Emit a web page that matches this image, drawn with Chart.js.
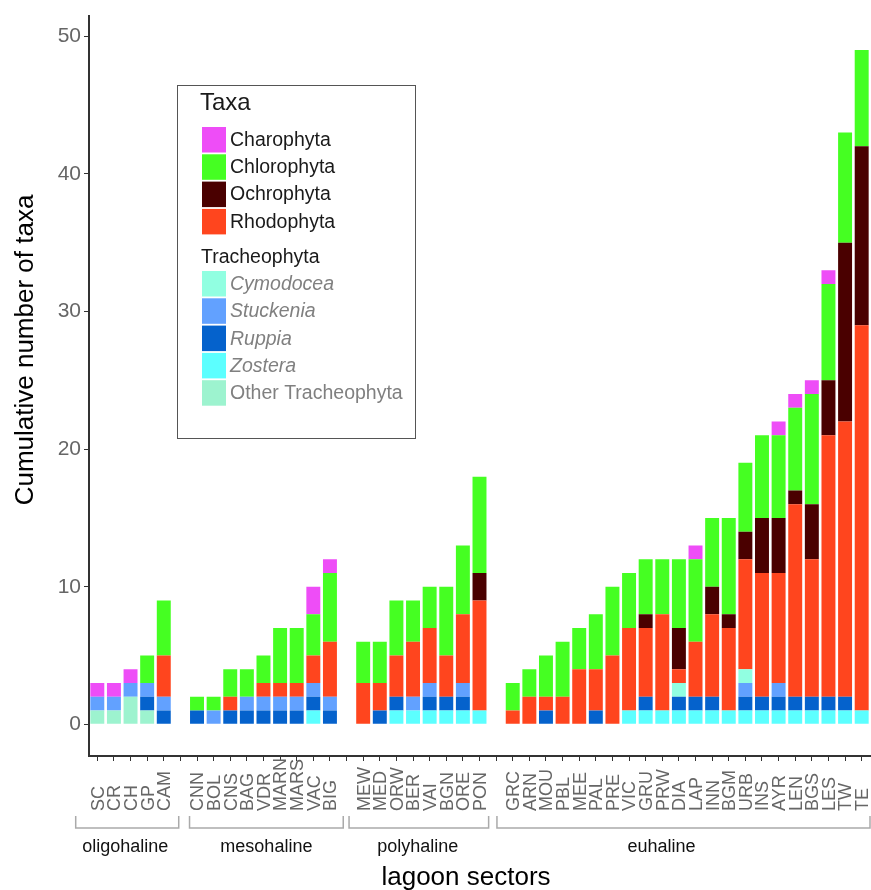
<!DOCTYPE html>
<html>
<head>
<meta charset="utf-8">
<script src="https://cdn.jsdelivr.net/npm/chart.js@4"></script>
<style>
  html, body { margin: 0; padding: 0; background: #fff; }
  #wrap { width: 871px; height: 890px; }
</style>
</head>
<body>
<div id="wrap"><canvas id="grafico"></canvas></div>
<script>
// sectors per salinity zone
const zones = ['oligohaline', 'mesohaline', 'polyhaline', 'euhaline'];
const sectors = [
  ['SC', 'CR', 'CH', 'GP', 'CAM'],
  ['CNN', 'BOL', 'CNS', 'BAG', 'VDR', 'MARN', 'MARS', 'VAC', 'BIG'],
  ['MEW', 'MED', 'ORW', 'BER', 'VAI', 'BGN', 'ORE', 'PON'],
  ['GRC', 'ARN', 'MOU', 'PBL', 'MEE', 'PAL', 'PRE', 'VIC', 'GRU', 'PRW', 'DIA', 'LAP',
   'INN', 'BGM', 'URB', 'INS', 'AYR', 'LEN', 'BGS', 'LES', 'TW', 'TE']
];

// number of taxa per sector (same order as above, 44 sectors)
const otherTrach = [1,1,2,1,0, 0,0,0,0,0,0,0,0,0, 0,0,0,0,0,0,0,0, 0,0,0,0,0,0,0,0,0,0,0,0,0,0,0,0,0,0,0,0,0,0];
const zostera    = [0,0,0,0,0, 0,0,0,0,0,0,0,1,0, 0,0,1,1,1,1,1,1, 0,0,0,0,0,0,0,1,1,1,1,1,1,1,1,1,1,1,1,1,1,1];
const ruppia     = [0,0,0,1,1, 1,0,1,1,1,1,1,1,1, 0,1,1,0,1,1,1,0, 0,0,1,0,0,1,0,0,1,0,1,1,1,0,1,1,1,1,1,1,1,0];
const stuckenia  = [1,1,1,1,1, 0,1,0,1,1,1,1,1,1, 0,0,0,1,1,0,1,0, 0,0,0,0,0,0,0,0,0,0,0,0,0,0,1,0,1,0,0,0,0,0];
const cymodocea  = [0,0,0,0,0, 0,0,0,0,0,0,0,0,0, 0,0,0,0,0,0,0,0, 0,0,0,0,0,0,0,0,0,0,1,0,0,0,1,0,0,0,0,0,0,0];
const rhodophyta = [0,0,0,0,3, 0,0,1,0,1,1,1,2,4, 3,2,3,4,4,3,5,8, 1,2,1,2,4,3,5,6,5,7,1,4,6,6,8,9,8,14,10,19,20,28];
const ochrophyta = [0,0,0,0,0, 0,0,0,0,0,0,0,0,0, 0,0,0,0,0,0,0,2, 0,0,0,0,0,0,0,0,1,0,3,0,2,1,2,4,4,1,4,4,13,13];
const chlorophyta= [0,0,0,2,4, 1,1,2,2,2,4,4,3,5, 3,3,4,3,3,5,5,7, 2,2,3,4,3,4,5,4,4,4,5,6,5,7,5,6,6,6,8,7,8,7];
const charophyta = [1,1,1,0,0, 0,0,0,0,0,0,0,2,1, 0,0,0,0,0,0,0,0, 0,0,0,0,0,0,0,0,0,0,0,1,0,0,0,0,1,1,1,1,0,0];

const yTicks = [0, 10, 20, 30, 40, 50];

// series, bottom to top of each stack
const series = [
  { label: 'Other Tracheophyta', data: otherTrach,  color: '#9DF3CF' },
  { label: 'Zostera',            data: zostera,     color: '#5CFFFF' },
  { label: 'Ruppia',             data: ruppia,      color: '#0562CC' },
  { label: 'Stuckenia',          data: stuckenia,   color: '#62A1FF' },
  { label: 'Cymodocea',          data: cymodocea,   color: '#91FFE1' },
  { label: 'Rhodophyta',         data: rhodophyta,  color: '#FF451E' },
  { label: 'Ochrophyta',         data: ochrophyta,  color: '#4A0000' },
  { label: 'Chlorophyta',        data: chlorophyta, color: '#45FF22' },
  { label: 'Charophyta',         data: charophyta,  color: '#EE4DF7' }
];
const legendAlgae = ['Charophyta', 'Chlorophyta', 'Ochrophyta', 'Rhodophyta'];
const legendTrach = ['Cymodocea', 'Stuckenia', 'Ruppia', 'Zostera', 'Other Tracheophyta'];
const italicNames = ['Cymodocea', 'Stuckenia', 'Ruppia', 'Zostera'];

// build the category slots, with an empty slot between zones
const labels = [];
const slotOf = [];     // slot index of each sector
const zoneSlots = [];  // [first, last] slot of each zone
sectors.forEach((list, z) => {
  if (z > 0) labels.push('');
  const first = labels.length;
  list.forEach(s => { slotOf.push(labels.length); labels.push(s); });
  zoneSlots.push([first, labels.length - 1]);
});
function toSlots(values) {
  const out = labels.map(() => null);
  values.forEach((v, i) => { out[slotOf[i]] = v; });
  return out;
}

const SANS = "'Liberation Sans', Arial, sans-serif";
Chart.defaults.font.family = SANS;

// bracket ends (in slots) and label nudges, as in the original figure
const bracketPad = [[1.3, 0.9], [0.45, 0.8], [0.85, 0.55], [0.95, 0.6]];
const zoneLabelShift = [-2, 0, -1, -22];

const decor = {
  id: 'decor',
  afterDraw(chart) {
    const ctx = chart.ctx;
    const x = chart.scales.x;
    const slot = x.getPixelForValue(1) - x.getPixelForValue(0);
    ctx.save();

    // rotated sector labels, start aligned at the bottom
    ctx.fillStyle = '#666';
    ctx.font = "18px 'Liberation Sans Narrow', 'Liberation Sans', Arial, sans-serif";
    ctx.textAlign = 'left';
    ctx.textBaseline = 'alphabetic';
    labels.forEach((lab, i) => {
      if (!lab) return;
      ctx.save();
      ctx.translate(x.getPixelForValue(i), 811);
      ctx.rotate(-Math.PI / 2);
      ctx.fillText(lab, 0, 6.4);
      ctx.restore();
    });

    // zone brackets and names
    zoneSlots.forEach(([a, b], z) => {
      const x0 = x.getPixelForValue(a) - bracketPad[z][0] * slot;
      const x1 = Math.min(x.getPixelForValue(b) + bracketPad[z][1] * slot, chart.width - 1);
      ctx.strokeStyle = '#aaa';
      ctx.lineWidth = 1.5;
      ctx.beginPath();
      ctx.moveTo(x0, 816); ctx.lineTo(x0, 828); ctx.lineTo(x1, 828); ctx.lineTo(x1, 816);
      ctx.stroke();
      ctx.fillStyle = '#111';
      ctx.font = '18px ' + SANS;
      ctx.textAlign = 'center';
      ctx.fillText(zones[z], (x0 + x1) / 2 + zoneLabelShift[z], 852);
    });

    // axis titles
    ctx.fillStyle = '#000';
    ctx.font = '26px ' + SANS;
    ctx.textAlign = 'center';
    ctx.fillText('lagoon sectors', 466, 885);
    ctx.save();
    ctx.translate(33, 350);
    ctx.rotate(-Math.PI / 2);
    ctx.fillText('Cumulative number of taxa', 0, 0);
    ctx.restore();

    // legend box
    const colorOf = {};
    chart.data.datasets.forEach(d => { colorOf[d.label] = d.backgroundColor; });
    ctx.strokeStyle = '#555';
    ctx.lineWidth = 1;
    ctx.strokeRect(177.5, 85.5, 238, 353);
    ctx.textAlign = 'left';
    ctx.fillStyle = '#1a1a1a';
    ctx.font = '24px ' + SANS;
    ctx.fillText('Taxa', 200, 110);
    const item = (name, top, italic, col) => {
      ctx.fillStyle = colorOf[name];
      ctx.fillRect(202, top, 24, 25.5);
      ctx.fillStyle = col;
      ctx.font = (italic ? 'italic ' : '') + '19.5px ' + SANS;
      ctx.textBaseline = 'middle';
      ctx.fillText(name, 230, top + 13.5);
      ctx.textBaseline = 'alphabetic';
    };
    legendAlgae.forEach((n, i) => item(n, 127 + i * 27.3, false, '#1a1a1a'));
    ctx.fillStyle = '#1a1a1a';
    ctx.font = '19.5px ' + SANS;
    ctx.fillText('Tracheophyta', 201, 263);
    legendTrach.forEach((n, i) => item(n, 271 + i * 27.3, italicNames.includes(n), '#808080'));

    ctx.restore();
  }
};

const ctx = document.getElementById('grafico').getContext('2d');
const grafico = new Chart(ctx, {
  type: 'bar',
  data: {
    labels: labels,
    datasets: series.map(s => ({
      label: s.label,
      data: toSlots(s.data),
      backgroundColor: s.color,
      borderWidth: 0,
      barPercentage: 0.84,
      categoryPercentage: 1
    }))
  },
  options: {
    responsive: true,
    maintainAspectRatio: false,
    animation: false,
    layout: { padding: { top: 4, right: 1, left: 0, bottom: 0 } },
    plugins: {
      legend: { display: false },
      tooltip: { enabled: false }
    },
    scales: {
      x: {
        stacked: true,
        offset: true,
        grid: { offset: false, drawOnChartArea: false, drawTicks: true, tickLength: 5, color: '#333' },
        border: { display: true, color: '#333', width: 2 },
        ticks: { display: false },
        afterFit: s => { s.height = 134; }
      },
      y: {
        stacked: true,
        min: -2.3,
        max: 51.5,
        afterBuildTicks: s => { s.ticks = yTicks.map(v => ({ value: v })); },
        grid: { drawOnChartArea: false, drawTicks: true, tickLength: 5, color: '#333' },
        border: { display: true, color: '#333', width: 2 },
        ticks: { color: '#666', font: { size: 21 }, padding: 3 },
        afterFit: s => { s.width = 89; }
      }
    }
  },
  plugins: [decor]
});
</script>
</body>
</html>
